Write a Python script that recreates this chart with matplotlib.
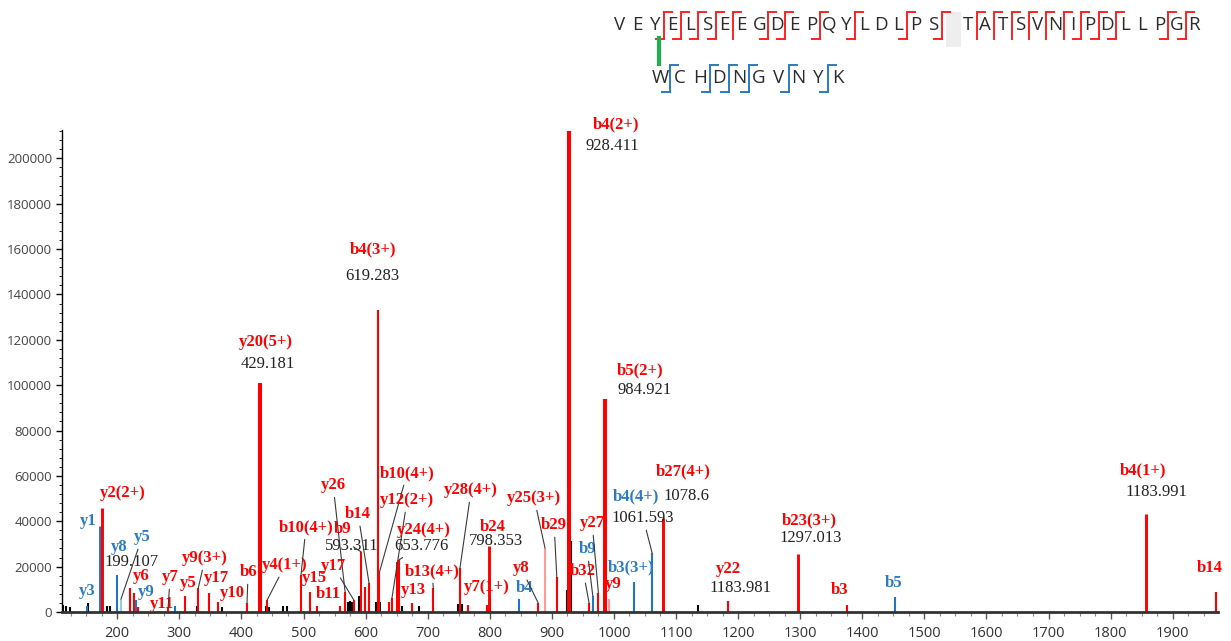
import matplotlib.pyplot as plt
from matplotlib.ticker import MultipleLocator

# ---- spectrum peaks: m/z, intensity, match type, ion name, printed m/z ----
peak_mz = [113.0, 117.5, 124.0, 151.5, 153.5, 172.5, 176.0, 183.5, 188.5, 199.107,
           206.0, 220.5, 227.0, 230.5, 234.0, 282.0, 293.0, 309.0, 328.5, 330.5,
           348.0, 362.0, 369.0, 409.0, 429.181, 439.0, 441.5, 444.0, 467.0, 473.0,
           496.0, 511.0, 521.5, 559.0, 567.0, 572.0, 575.0, 578.0, 581.0, 589.5,
           593.311, 599.0, 605.5, 616.5, 619.283, 622.0, 623.5, 638.0, 642.5, 650.5,
           653.776, 659.0, 675.0, 686.0, 709.0, 749.0, 752.0, 755.0, 765.0, 795.0,
           798.353, 800.5, 847.0, 878.0, 889.0, 908.0, 924.5, 928.411, 931.0, 960.0,
           966.0, 975.0, 984.921, 992.0, 1032.0, 1061.593, 1078.6, 1136.0, 1183.981, 1297.013,
           1375.0, 1453.0, 1857.0, 1970.0]
peak_int = [3000, 2500, 2200, 2800, 3800, 38000, 46000, 2600, 2800, 16500,
            5700, 10500, 8500, 5300, 2200, 2200, 2600, 7000, 2600, 10500,
            8400, 4400, 2200, 4000, 101000, 2600, 5300, 2200, 2600, 2600,
            16300, 8800, 2600, 2600, 8800, 4400, 5000, 4400, 5300, 7000,
            26400, 11000, 12800, 4400, 133000, 17200, 4400, 4400, 6200, 22000,
            23000, 2600, 4000, 2600, 10600, 3500, 19400, 3500, 3100, 3000,
            29100, 7500, 5700, 4000, 28200, 15400, 9700, 212000, 31300, 4000,
            7000, 8400, 94000, 5700, 13200, 26000, 41400, 3100, 4800, 25600,
            3100, 6600, 43200, 8800]
peak_kind = ['none', 'none', 'none', 'beta', 'none', 'beta', 'alpha', 'none', 'none', 'beta',
             'beta_weak', 'alpha', 'alpha', 'beta', 'alpha', 'alpha', 'beta', 'alpha', 'none', 'alpha',
             'alpha', 'alpha', 'none', 'alpha', 'alpha', 'none', 'alpha', 'none', 'none', 'none',
             'alpha', 'alpha', 'alpha', 'alpha', 'alpha', 'none', 'none', 'none', 'alpha', 'none',
             'alpha', 'alpha', 'alpha', 'none', 'alpha', 'alpha', 'none', 'alpha', 'alpha', 'alpha',
             'alpha', 'none', 'alpha', 'none', 'alpha', 'none', 'alpha', 'none', 'alpha', 'alpha',
             'alpha', 'none', 'beta', 'alpha', 'alpha_weak', 'alpha', 'none', 'alpha', 'none', 'alpha',
             'beta', 'alpha', 'alpha', 'alpha_weak', 'beta', 'beta', 'alpha', 'none', 'alpha', 'alpha',
             'alpha', 'beta', 'alpha', 'alpha']
peak_ion = ['', '', '', 'y3', '', 'y1', 'y2(2+)', '', '', 'y8',
            'y5', 'y6', '', 'y9', 'y11', 'y7', '', 'y5', '', 'y9(3+)',
            'y17', 'y10', '', 'b6', 'y20(5+)', '', 'y4(1+)', '', '', '',
            'b10(4+)', 'y15', 'b11', '', 'y26', '', '', '', 'y17', '',
            'b9', '', 'b14', '', 'b4(3+)', 'b10(4+)', '', '', 'y12(2+)', '',
            'y24(4+)', '', 'y13', '', 'b13(4+)', '', 'y28(4+)', '', '', 'y7(1+)',
            'b24', '', 'b4', 'y8', 'y25(3+)', 'b29', '', 'b4(2+)', '', 'b32',
            'b9', 'y27', 'b5(2+)', 'y9', 'b3(3+)', 'b4(4+)', 'b27(4+)', '', 'y22', 'b23(3+)',
            'b3', 'b5', 'b4(1+)', 'b14']
peak_note = {199.107: '199.107', 429.181: '429.181', 593.311: '593.311', 619.283: '619.283',
             653.776: '653.776', 798.353: '798.353', 928.411: '928.411', 984.921: '984.921',
             1061.593: '1061.593', 1078.6: '1078.6', 1183.981: '1183.981', 1297.013: '1297.013',
             1857.0: '1183.991'}

# ---- cross-linked peptides ----
alpha_seq = 'VEYELSEEGDEPQYLDLPS TATSVNIPDLLPGR'
beta_seq = 'WCHDNGVNYK'
alpha_sites = [2, 3, 4, 5, 6, 8, 9, 11, 13, 16, 18, 20, 21, 22, 23, 24, 25, 26, 27, 28, 31, 32]
alpha_sites_y = [2, 3, 4, 5, 8, 9, 11, 13, 16, 18, 26, 27, 28, 31, 32]
beta_sites = [0, 2, 3, 4, 6, 8]

# ---- label layout (text centres in data units; True -> leader line) ----
ion_place = {
    151.5: (151.4, 9250, False), 172.5: (153.0, 40100, False), 176.0: (209.4, 52400, False),
    199.107: (203.0, 28600, False), 206.0: (240.0, 33000, True), 220.5: (238.4, 16000, False),
    230.5: (246.0, 8600, False), 234.0: (272.0, 3400, False), 282.0: (285.1, 15400, True),
    309.0: (314.1, 12800, False), 330.5: (341.5, 23800, True), 348.0: (359.2, 15200, False),
    362.0: (385.0, 8400, False), 409.0: (410.8, 17600, True), 429.181: (439.8, 118900, False),
    441.5: (470.4, 20700, True), 496.0: (504.0, 37400, True), 511.0: (517.1, 15000, False),
    521.5: (539.6, 7900, False), 567.0: (547.7, 55900, True), 581.0: (547.7, 20300, True),
    593.311: (563.5, 36600, False), 605.5: (587.9, 43200, True), 619.283: (612.1, 159900, False),
    622.0: (666.9, 61200, True), 642.5: (666.9, 49300, True), 653.776: (694.3, 36100, False),
    675.0: (676.5, 9700, False), 709.0: (707.2, 18100, True), 752.0: (770.0, 53700, True),
    795.0: (795.7, 11000, False), 798.353: (805.4, 37400, False), 847.0: (855.3, 10600, False),
    878.0: (850.5, 19400, True), 889.0: (871.5, 50200, True), 908.0: (903.7, 38300, True),
    928.411: (1003.5, 215000, False), 960.0: (950.4, 18100, True), 966.0: (956.8, 27800, True),
    975.0: (964.9, 39200, True), 984.921: (1042.2, 106600, False), 992.0: (998.7, 12300, False),
    1032.0: (1027.7, 19800, False), 1061.593: (1035.8, 51100, False), 1078.6: (1111.5, 62100, False),
    1183.981: (1184.0, 18900, False), 1297.013: (1314.4, 40500, False), 1375.0: (1362.8, 9700, False),
    1453.0: (1449.7, 12800, False), 1857.0: (1852.4, 62500, False), 1970.0: (1960.4, 19400, False),
}
note_place = {
    199.107: (222.3, 22000, False), 429.181: (443.0, 109200, False), 593.311: (578.3, 29100, True),
    619.283: (610.5, 148000, False), 653.776: (689.4, 29100, True), 798.353: (810.2, 31300, False),
    928.411: (997.1, 205300, False), 984.921: (1048.7, 97800, False), 1061.593: (1047.0, 41400, True),
    1078.6: (1116.3, 51100, False), 1183.981: (1203.3, 10600, False), 1297.013: (1317.7, 32600, False),
    1857.0: (1873.4, 52900, False),
}

line_color = {'alpha': '#ff0000', 'beta': '#1f74c4', 'alpha_weak': '#ff9a9a',
              'beta_weak': '#9cc8ee', 'none': '#000000'}
text_color = {'alpha': '#ff0000', 'alpha_weak': '#ff0000', 'beta': '#2a7bc4', 'beta_weak': '#2a7bc4'}
heavy = {'y20(5+)', 'b4(2+)', 'b5(2+)'}
medium = {'b27(4+)', 'b4(1+)', 'b23(3+)', 'b24', 'y1', 'y2(2+)'}

fig = plt.figure(figsize=(12.31, 6.41), dpi=100)
ax = fig.add_axes([62 / 1231, 29 / 641, 1156 / 1231, 482 / 641])

# sticks: unmatched first so matched ions sit on top
order = sorted(range(len(peak_mz)), key=lambda i: peak_kind[i] != 'none')
for i in order:
    lw = 2.9 if peak_ion[i] in heavy else (2.1 if peak_ion[i] in medium else 1.5)
    ax.vlines(peak_mz[i], 0, peak_int[i], colors=line_color[peak_kind[i]], linewidth=lw)

ion_font = dict(family='Liberation Serif', fontsize=12, fontweight='bold', ha='center', va='center')
note_font = dict(family='Liberation Serif', fontsize=12, color='#222222', ha='center', va='center')
lead = dict(arrowstyle='-', color='#3a3a3a', lw=0.8, shrinkA=1, shrinkB=0)

for mz, inten, kind, ion in zip(peak_mz, peak_int, peak_kind, peak_ion):
    if not ion:
        continue
    tx, ty, has_lead = ion_place[mz]
    note = peak_note.get(mz)
    ion_lead = has_lead and note is None
    ax.annotate(ion, xy=(mz, inten), xytext=(tx, ty), color=text_color[kind],
                arrowprops=lead if ion_lead else None, annotation_clip=False, **ion_font)
    if note:
        nx, ny, note_lead = note_place[mz]
        ax.annotate(note, xy=(mz, inten), xytext=(nx, ny),
                    arrowprops=lead if note_lead else None, annotation_clip=False, **note_font)

ax.set_xlim(111, 1973)
ax.set_ylim(0, 212500)
ax.xaxis.set_major_locator(MultipleLocator(100))
ax.xaxis.set_minor_locator(MultipleLocator(25))
ax.yaxis.set_major_locator(MultipleLocator(20000))
ax.yaxis.set_minor_locator(MultipleLocator(4000))
ax.spines['top'].set_visible(False)
ax.spines['right'].set_visible(False)
ax.spines['bottom'].set_linewidth(2.0)
ax.spines['bottom'].set_color('#333333')
ax.spines['left'].set_linewidth(1.0)
ax.tick_params(axis='x', which='major', length=5, width=1, color='#555555', pad=5,
               labelsize=10.5, labelcolor='#333333')
ax.tick_params(axis='x', which='minor', length=3, width=0.8, color='#888888')
ax.tick_params(axis='y', which='major', length=4, width=1, pad=3, labelsize=9.5, labelcolor='#444444')
ax.tick_params(axis='y', which='minor', length=2, width=0.6)
for lab in ax.get_xticklabels() + ax.get_yticklabels():
    lab.set_family('Open Sans')

# ---- peptide sequences with fragment brackets, drawn in pixel space ----
ov = fig.add_axes([0, 0, 1, 1], zorder=-1)
ov.set_xlim(0, 1231)
ov.set_ylim(641, 0)
ov.axis('off')

seq_font = dict(family='Open Sans', fontsize=13.5, color='#2b2b2b', ha='center', va='center')
a_x0, a_step, a_y = 620, 17.4, 25
b_x0, b_step, b_y = 660, 19.8, 78

ov.add_patch(plt.Rectangle((a_x0 + 19 * a_step - 5, 12), 15, 35, color='#eeeeee', lw=0))
for k, ch in enumerate(alpha_seq):
    if ch != ' ':
        ov.text(a_x0 + k * a_step, a_y, ch, **seq_font)
for k, ch in enumerate(beta_seq):
    ov.text(b_x0 + k * b_step, b_y, ch, **seq_font)


def bracket(x, top, bot, hook, color, low):
    ov.plot([x, x, x + hook], [bot, top, top], color=color, lw=1.4, solid_joinstyle='miter')
    if low:
        ov.plot([x - hook, x], [bot, bot], color=color, lw=1.4)


for s in alpha_sites:
    bracket(a_x0 + (s + 0.5) * a_step, 12, 39, 8, '#ff2020', s in alpha_sites_y)
for s in beta_sites:
    bracket(b_x0 + (s + 0.5) * b_step, 65, 92, 8, '#2a7bc4', True)

# cross-link between Y3 of alpha and W1 of beta
ov.plot([b_x0 - 1, b_x0 - 1], [38, 64], color='#1fae4a', lw=3)

fig.savefig('out.png', dpi=100)
